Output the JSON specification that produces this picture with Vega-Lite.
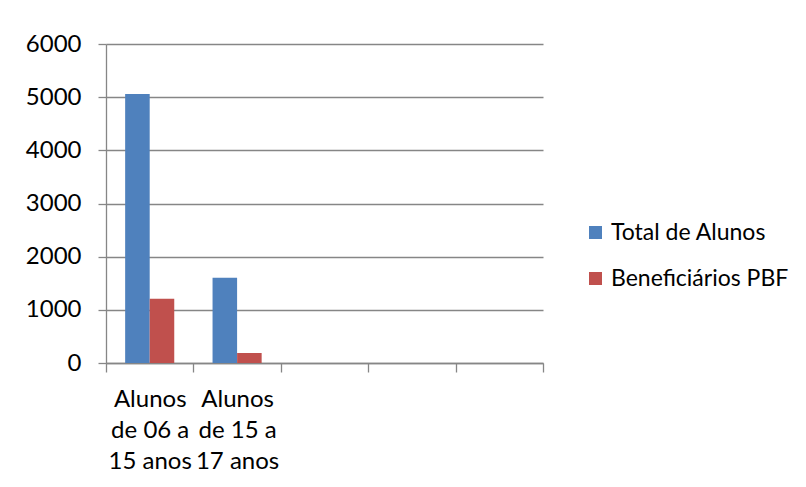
{
  "$schema": "https://vega.github.io/schema/vega-lite/v6.json",
  "autosize": "none",
  "width": 437,
  "height": 319,
  "padding": {"left": 106, "top": 44, "right": 263, "bottom": 124},
  "background": "white",
  "config": {
    "font": "Lato",
    "view": {"stroke": null},
    "axis": {"labelFont": "Lato", "labelFontSize": 24, "labelColor": "#000000"},
    "legend": {"labelFont": "Lato", "labelFontSize": 23, "labelColor": "#000000"}
  },
  "data": {
    "values": [
      {"categoria": "Alunos de 06 a 15 anos", "serie": "Total de Alunos", "valor": 5060},
      {"categoria": "Alunos de 06 a 15 anos", "serie": "Beneficiários PBF", "valor": 1210},
      {"categoria": "Alunos de 15 a 17 anos", "serie": "Total de Alunos", "valor": 1605},
      {"categoria": "Alunos de 15 a 17 anos", "serie": "Beneficiários PBF", "valor": 188}
    ]
  },
  "mark": {"type": "bar"},
  "encoding": {
    "x": {
      "field": "categoria",
      "type": "nominal",
      "scale": {
        "domain": ["Alunos de 06 a 15 anos", "Alunos de 15 a 17 anos", "c3", "c4", "c5"],
        "paddingInner": 0,
        "paddingOuter": 0
      },
      "axis": {
        "title": null,
        "labelAngle": 0,
        "labelExpr": "datum.value == 'Alunos de 06 a 15 anos' ? ['Alunos', 'de 06 a', '15 anos'] : datum.value == 'Alunos de 15 a 17 anos' ? ['Alunos', 'de 15 a', '17 anos'] : ''",
        "labelLineHeight": 31,
        "labelPadding": 15,
        "tickBand": "extent",
        "tickSize": 9,
        "tickColor": "#868686",
        "tickWidth": 1.3,
        "domainColor": "#868686",
        "domainWidth": 1.3,
        "grid": false
      }
    },
    "xOffset": {
      "field": "serie",
      "type": "nominal",
      "sort": ["Total de Alunos", "Beneficiários PBF"],
      "scale": {"paddingInner": 0, "paddingOuter": 0.78}
    },
    "y": {
      "field": "valor",
      "type": "quantitative",
      "scale": {"domain": [0, 6000], "nice": false},
      "axis": {
        "title": null,
        "format": "d",
        "values": [0, 1000, 2000, 3000, 4000, 5000, 6000],
        "tickSize": 8,
        "tickColor": "#868686",
        "tickWidth": 1.3,
        "domainColor": "#868686",
        "domainWidth": 1.3,
        "gridColor": "#868686",
        "gridWidth": 1.3,
        "labelPadding": 17
      }
    },
    "color": {
      "field": "serie",
      "type": "nominal",
      "sort": ["Total de Alunos", "Beneficiários PBF"],
      "scale": {"domain": ["Total de Alunos", "Beneficiários PBF"], "range": ["#4F81BD", "#C0504D"]},
      "legend": {
        "title": null,
        "orient": "none",
        "legendX": 478,
        "legendY": 177,
        "symbolType": "square",
        "symbolSize": 169,
        "symbolStrokeWidth": 0,
        "rowPadding": 22,
        "labelOffset": 4,
        "labelLimit": 0
      }
    }
  }
}
